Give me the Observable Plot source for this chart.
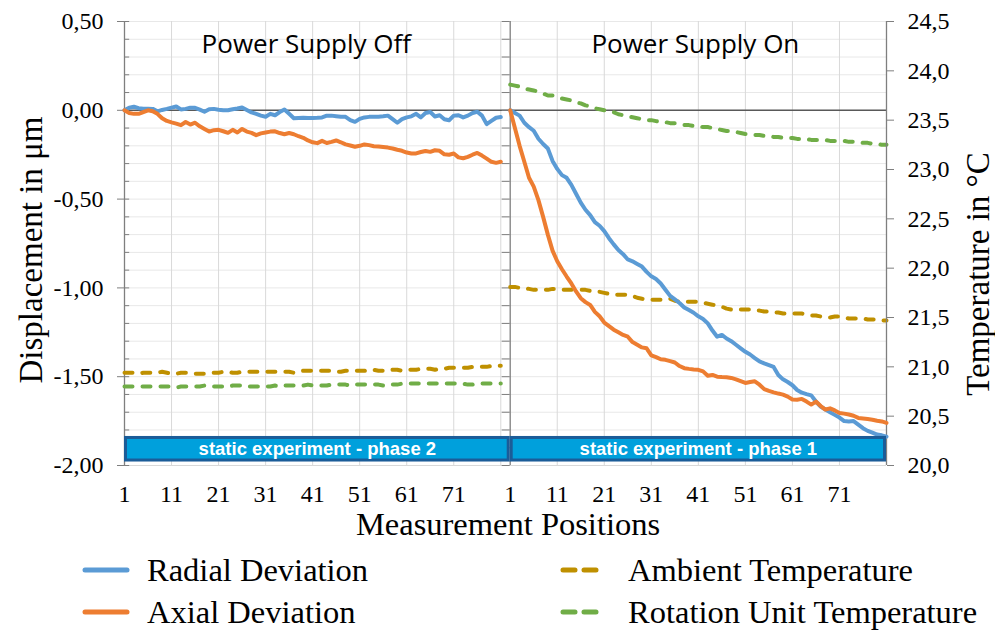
<!DOCTYPE html>
<html>
<head>
<meta charset="utf-8">
<script src="https://cdn.jsdelivr.net/npm/d3@7"></script>
<script src="https://cdn.jsdelivr.net/npm/@observablehq/plot@0.6"></script>
<style>
  html, body { margin: 0; padding: 0; background: #fff; }
  #wrap { position: relative; width: 995px; height: 630px; overflow: hidden; background: #fff; }
  #wrap > svg { position: absolute; left: 0; top: 0; }
  .lbl { position: absolute; font-family: "Liberation Serif", serif; color: #000; white-space: nowrap; }
  .rot { transform: translate(-50%, -50%) rotate(-90deg); }
  .ctr { transform: translate(-50%, -50%); }
  .leg { position: absolute; font-family: "Liberation Serif", serif; font-size: 32.5px; color: #000; white-space: nowrap; transform: translateY(-50%); }
  .sw { position: absolute; }
</style>
</head>
<body>
<div id="wrap"></div>
<script>
// ---------------- data ----------------
const panelNames = ["Power Supply Off", "Power Supply On"];
const panelPhases = ["static experiment - phase 2", "static experiment - phase 1"];
// x-domain range occupied by each panel on the shared position axis
const panelSpan = [[1, 83], [83, 163]];
const panelOffset = [0, 82];

const seriesNames = ["Radial Deviation", "Axial Deviation", "Ambient Temperature", "Rotation Unit Temperature"];
const seriesColors = ["#5b9bd5", "#ed7d31", "#bf9000", "#70ad47"];

const xTickLabels = [1, 11, 21, 31, 41, 51, 61, 71];
const xGridLabels = [11, 21, 31, 41, 51, 61, 71, 81];
const yTicks = [-2, -1.5, -1, -0.5, 0, 0.5];
const yMinorTicks = [-1.9, -1.8, -1.7, -1.6, -1.5, -1.4, -1.3, -1.2, -1.1, -1.0, -0.9, -0.8, -0.7, -0.6, -0.5, -0.4, -0.3, -0.2, -0.1, 0, 0.1, 0.2, 0.3, 0.4, 0.5];
const tempTicks = [20, 20.5, 21, 21.5, 22, 22.5, 23, 23.5, 24, 24.5];

const positions = d3.range(1, 82); // measurement positions 1..81

// Power Supply Off (displacement, µm)
const radialOff = [0.000,0.015,0.020,0.012,0.009,0.009,0.008,-0.006,0.002,0.008,
  0.015,0.021,0.005,0.008,0.015,0.014,0.004,-0.008,0.006,0.008,
  0.003,0.000,0.000,0.006,0.010,0.016,0.002,-0.012,-0.020,-0.030,
  -0.036,-0.020,-0.028,-0.010,0.004,-0.020,-0.045,-0.043,-0.042,-0.043,
  -0.043,-0.042,-0.040,-0.030,-0.030,-0.033,-0.036,-0.037,-0.055,-0.065,
  -0.048,-0.040,-0.037,-0.037,-0.036,-0.034,-0.030,-0.050,-0.070,-0.050,
  -0.040,-0.034,-0.020,-0.040,-0.015,-0.010,-0.035,-0.028,-0.050,-0.056,
  -0.030,-0.028,-0.040,-0.030,-0.015,-0.008,-0.030,-0.078,-0.060,-0.042,
  -0.038];
const axialOff = [0.000,-0.015,-0.020,-0.020,-0.010,0.000,-0.005,-0.020,-0.045,-0.060,
  -0.068,-0.075,-0.084,-0.066,-0.080,-0.070,-0.090,-0.105,-0.120,-0.112,
  -0.110,-0.118,-0.127,-0.110,-0.125,-0.105,-0.120,-0.127,-0.140,-0.130,
  -0.125,-0.120,-0.118,-0.128,-0.135,-0.128,-0.135,-0.146,-0.155,-0.170,
  -0.180,-0.185,-0.172,-0.184,-0.178,-0.170,-0.180,-0.192,-0.198,-0.205,
  -0.200,-0.192,-0.196,-0.202,-0.204,-0.207,-0.210,-0.215,-0.222,-0.228,
  -0.238,-0.243,-0.243,-0.235,-0.229,-0.234,-0.225,-0.228,-0.248,-0.250,
  -0.243,-0.265,-0.270,-0.262,-0.250,-0.240,-0.255,-0.272,-0.290,-0.296,
  -0.290];
// Power Supply Off (temperature, °C)
const ambientOff = [20.94,20.94,20.94,20.93,20.94,20.94,20.94,20.94,20.95,20.94,
  20.93,20.93,20.94,20.94,20.94,20.93,20.93,20.93,20.94,20.94,
  20.94,20.95,20.95,20.94,20.94,20.95,20.95,20.95,20.95,20.95,
  20.95,20.95,20.95,20.95,20.95,20.95,20.94,20.95,20.96,20.96,
  20.96,20.96,20.96,20.96,20.96,20.95,20.95,20.96,20.96,20.96,
  20.96,20.96,20.97,20.97,20.96,20.96,20.96,20.97,20.97,20.96,
  20.97,20.97,20.97,20.98,20.98,20.98,20.97,20.98,20.98,20.99,
  20.99,20.99,20.99,20.99,21.00,21.00,21.00,21.00,21.01,21.01,
  21.01];
const rotationOff = [20.80,20.80,20.80,20.80,20.80,20.80,20.80,20.80,20.80,20.80,
  20.80,20.79,20.80,20.80,20.80,20.80,20.80,20.81,20.81,20.80,
  20.80,20.80,20.80,20.81,20.81,20.81,20.80,20.80,20.80,20.80,
  20.80,20.80,20.81,20.80,20.81,20.81,20.81,20.81,20.81,20.82,
  20.81,20.81,20.81,20.81,20.82,20.82,20.82,20.82,20.81,20.82,
  20.82,20.82,20.82,20.82,20.82,20.81,20.82,20.82,20.82,20.83,
  20.83,20.83,20.83,20.83,20.83,20.83,20.83,20.83,20.83,20.83,
  20.83,20.83,20.83,20.82,20.82,20.83,20.83,20.83,20.83,20.83,
  20.83];

// Power Supply On (displacement, µm)
const radialOn = [0.000,-0.015,-0.030,-0.070,-0.095,-0.115,-0.160,-0.190,-0.215,-0.285,
  -0.330,-0.365,-0.380,-0.420,-0.470,-0.520,-0.560,-0.590,-0.630,-0.650,
  -0.680,-0.720,-0.755,-0.787,-0.810,-0.840,-0.850,-0.865,-0.880,-0.910,
  -0.935,-0.950,-0.975,-1.010,-1.045,-1.065,-1.085,-1.110,-1.125,-1.140,
  -1.160,-1.175,-1.200,-1.240,-1.275,-1.265,-1.285,-1.300,-1.320,-1.340,
  -1.360,-1.375,-1.395,-1.414,-1.425,-1.435,-1.445,-1.490,-1.515,-1.530,
  -1.548,-1.575,-1.590,-1.598,-1.605,-1.640,-1.668,-1.685,-1.700,-1.715,
  -1.730,-1.750,-1.752,-1.750,-1.770,-1.790,-1.805,-1.815,-1.826,-1.830,
  -1.838];
const axialOn = [0.000,-0.100,-0.200,-0.290,-0.380,-0.430,-0.506,-0.600,-0.700,-0.790,
  -0.850,-0.895,-0.936,-0.975,-1.020,-1.058,-1.080,-1.096,-1.135,-1.160,
  -1.195,-1.215,-1.235,-1.250,-1.265,-1.275,-1.305,-1.320,-1.335,-1.340,
  -1.380,-1.390,-1.402,-1.405,-1.412,-1.420,-1.440,-1.452,-1.456,-1.459,
  -1.461,-1.470,-1.495,-1.490,-1.500,-1.502,-1.503,-1.507,-1.515,-1.525,
  -1.535,-1.530,-1.526,-1.545,-1.570,-1.580,-1.588,-1.595,-1.601,-1.612,
  -1.628,-1.630,-1.625,-1.640,-1.657,-1.640,-1.665,-1.685,-1.678,-1.690,
  -1.704,-1.708,-1.713,-1.720,-1.732,-1.735,-1.738,-1.742,-1.748,-1.752,
  -1.760];
// Power Supply On (temperature, °C)
const ambientOn = [21.81,21.81,21.80,21.80,21.79,21.78,21.78,21.78,21.78,21.79,
  21.79,21.78,21.78,21.78,21.78,21.78,21.78,21.77,21.76,21.76,
  21.75,21.74,21.73,21.73,21.73,21.73,21.72,21.70,21.69,21.68,
  21.68,21.68,21.68,21.68,21.69,21.67,21.66,21.66,21.66,21.66,
  21.66,21.65,21.64,21.63,21.62,21.61,21.59,21.58,21.58,21.58,
  21.58,21.58,21.57,21.57,21.56,21.56,21.55,21.55,21.54,21.54,
  21.54,21.54,21.54,21.53,21.52,21.52,21.51,21.50,21.50,21.51,
  21.51,21.50,21.49,21.49,21.49,21.49,21.48,21.48,21.48,21.47,
  21.47];
const rotationOn = [23.86,23.85,23.84,23.82,23.81,23.80,23.79,23.77,23.75,23.75,
  23.74,23.72,23.71,23.70,23.68,23.67,23.65,23.64,23.62,23.61,
  23.60,23.59,23.58,23.56,23.55,23.54,23.53,23.52,23.51,23.50,
  23.50,23.49,23.48,23.48,23.47,23.47,23.46,23.45,23.45,23.44,
  23.44,23.43,23.43,23.42,23.41,23.40,23.39,23.39,23.38,23.37,
  23.36,23.36,23.35,23.35,23.34,23.34,23.33,23.33,23.32,23.32,
  23.32,23.31,23.31,23.31,23.30,23.30,23.30,23.30,23.29,23.29,
  23.29,23.29,23.28,23.28,23.28,23.27,23.27,23.26,23.26,23.25,
  23.25];

// ---------------- tables for the library ----------------
function rows(seriesList) {
  const out = [];
  seriesList.forEach(([values, name, panel]) => {
    values.forEach((v, i) => out.push({x: positions[i] + panelOffset[panel], value: v, series: name, key: name + panel}));
  });
  return out;
}
const dispRows = rows([[radialOff, seriesNames[0], 0], [axialOff, seriesNames[1], 0], [radialOn, seriesNames[0], 1], [axialOn, seriesNames[1], 1]]);
const tempRows = rows([[ambientOff, seriesNames[2], 0], [rotationOff, seriesNames[3], 0], [ambientOn, seriesNames[2], 1], [rotationOn, seriesNames[3], 1]]);

const xTickPositions = panelOffset.flatMap(o => xTickLabels.map(t => t + o));
const xGridPositions = panelOffset.flatMap(o => xGridLabels.map(t => t + o));
const mid = (d, i) => (panelSpan[i][0] + panelSpan[i][1]) / 2;
const fmt2 = d => d.toFixed(2).replace(".", ",").replace("-0,00", "0,00");
const fmt1 = d => d.toFixed(1).replace(".", ",");
const serif = "Liberation Serif";

const common = {
  width: 995, height: 545,
  marginLeft: 124, marginRight: 109, marginTop: 21, marginBottom: 80,
  x: {domain: [1, 163], axis: null},
  color: {domain: seriesNames, range: seriesColors}
};
const axisGrey = "#7f7f7f";

// Layer A: grid, axes, titles
const base = Plot.plot({
  ...common,
  y: {domain: [-2, 0.5], axis: null},
  style: {background: "#fff", overflow: "visible"},
  marks: [
    Plot.ruleY(yMinorTicks, {stroke: "#e8e8e8"}),
    Plot.ruleX(xGridPositions, {stroke: "#d9d9d9"}),
    Plot.ruleY([-2], {stroke: "#d9d9d9"}),
    Plot.ruleY([0], {stroke: "#595959", strokeWidth: 1.5}),
    Plot.ruleX([panelSpan[0][0], panelSpan[1][0]], {stroke: axisGrey, strokeWidth: 1.3}),
    Plot.ruleY(yMinorTicks.concat([-2]), {x1: 1, x2: 2.1, stroke: axisGrey}),
    Plot.ruleY(yMinorTicks.concat([-2]), {x1: 81.3, x2: 83, stroke: axisGrey}),
    Plot.axisY(yTicks, {tickSize: 7, tickPadding: 14, tickFormat: fmt2, fontSize: 24, fontFamily: serif, label: null, stroke: axisGrey, fill: "#000"}),
    Plot.axisX(xTickPositions, {tickSize: 0, tickPadding: 19, tickFormat: d => d > 82 ? d - 82 : d, fontSize: 24, fontFamily: serif, label: null, fill: "#000"}),
    Plot.text([panelNames[0]], {x: () => mid(null, 0), text: d => d, frameAnchor: "top", dy: 23, dx: -11, lineAnchor: "middle", fontFamily: "Open Sans", fontSize: 26, fill: "#000"}),
    Plot.text([panelNames[1]], {x: () => mid(null, 1), text: d => d, frameAnchor: "top", dy: 23, dx: -3, lineAnchor: "middle", fontFamily: "Open Sans", fontSize: 26, fill: "#000"})
  ]
});

// Layer B: temperatures on their own scale, right axis
const temp = Plot.plot({
  ...common,
  y: {domain: [20, 24.5], axis: null},
  style: {background: "transparent", overflow: "visible"},
  marks: [
    Plot.line(tempRows, {x: "x", y: "value", z: "key", stroke: "series", strokeWidth: 4, strokeDasharray: "8,10", strokeLinecap: "round", strokeLinejoin: "round"}),
    Plot.ruleX([panelSpan[1][1]], {stroke: axisGrey, strokeWidth: 1.3}),
    Plot.axisY(tempTicks, {anchor: "right", tickSize: 7, tickPadding: 14, tickFormat: fmt1, fontSize: 24, fontFamily: serif, label: null, stroke: axisGrey, fill: "#000"})
  ]
});

// Layer C: displacement lines and phase banners
const disp = Plot.plot({
  ...common,
  y: {domain: [-2, 0.5], axis: null},
  style: {background: "transparent", overflow: "visible"},
  marks: [
    Plot.line(dispRows, {x: "x", y: "value", z: "key", stroke: "series", strokeWidth: 4, strokeLinejoin: "round", strokeLinecap: "round"}),
    Plot.rect(panelPhases, {x1: (d, i) => panelSpan[i][0], x2: (d, i) => panelSpan[i][1], y1: -1.845, y2: -1.972, fill: "#00a0dc", stroke: "#1b5c98", strokeWidth: 3, insetLeft: 1.5, insetRight: 1.5}),
    Plot.text(panelPhases, {x: mid, y: -1.908, text: d => d, fill: "#fff", fontWeight: "bold", fontFamily: "Liberation Sans", fontSize: 18.5})
  ]
});

const wrap = document.getElementById("wrap");
wrap.appendChild(base);
wrap.appendChild(temp);
wrap.appendChild(disp);

// tick labels in the serif face (inline style wins over any attribute)
[base, temp].forEach(svg => {
  svg.querySelectorAll("text").forEach(el => {
    const holder = el.closest("[font-family]");
    const fam = holder ? holder.getAttribute("font-family") : "";
    if (!/Open Sans|Liberation Sans/.test(fam)) el.style.setProperty("font-family", '"Liberation Serif", serif', "important");
  });
});

// Axis titles
function addLabel(text, x, y, size, cls) {
  const d = document.createElement("div");
  d.className = "lbl " + cls;
  d.style.left = x + "px"; d.style.top = y + "px"; d.style.fontSize = size + "px";
  d.textContent = text;
  wrap.appendChild(d);
}
addLabel("Displacement in μm", 31, 250, 33, "rot");
addLabel("Temperature in °C", 978, 274, 33, "rot");
addLabel("Measurement Positions", 508, 524, 32.5, "ctr");

// Legend
const legendLayout = [
  {x: 82, tx: 147, y: 570, dashed: false},
  {x: 82, tx: 147, y: 612, dashed: false},
  {x: 560, tx: 628, y: 570, dashed: true},
  {x: 560, tx: 628, y: 612, dashed: true}
];
seriesNames.forEach((name, i) => {
  const L = legendLayout[i];
  const ns = "http://www.w3.org/2000/svg";
  const s = document.createElementNS(ns, "svg");
  s.setAttribute("class", "sw");
  s.setAttribute("width", 50); s.setAttribute("height", 10);
  s.style.left = L.x + "px"; s.style.top = (L.y - 5) + "px";
  const ln = document.createElementNS(ns, "line");
  ln.setAttribute("x1", 3); ln.setAttribute("x2", L.dashed ? 41 : 45);
  ln.setAttribute("y1", 5); ln.setAttribute("y2", 5);
  ln.setAttribute("stroke", seriesColors[i]); ln.setAttribute("stroke-width", 5);
  ln.setAttribute("stroke-linecap", "round");
  if (L.dashed) ln.setAttribute("stroke-dasharray", "12,9");
  s.appendChild(ln);
  wrap.appendChild(s);
  const t = document.createElement("div");
  t.className = "leg";
  t.style.left = L.tx + "px"; t.style.top = L.y + "px";
  t.textContent = name;
  wrap.appendChild(t);
});
</script>
</body>
</html>
